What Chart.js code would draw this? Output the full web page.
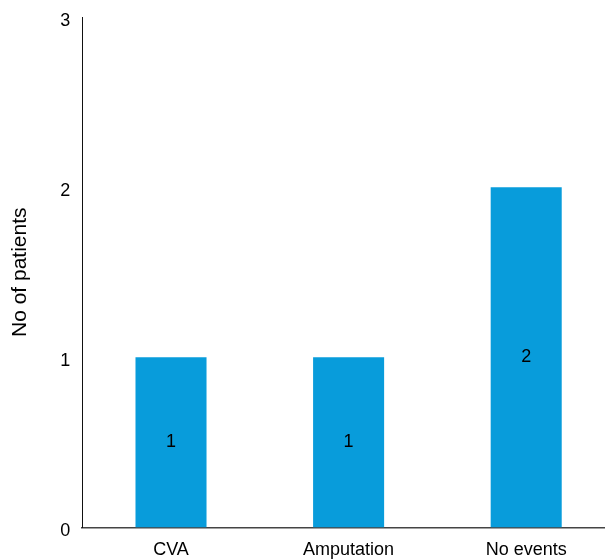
<!DOCTYPE html>
<html>
<head>
<meta charset="utf-8">
<script src="https://cdn.jsdelivr.net/npm/chart.js@4/dist/chart.umd.min.js"></script>
<style>
  html, body { margin: 0; padding: 0; background: #fff; overflow: hidden; }
  #wrap { width: 605px; height: 560px; overflow: hidden; }
  #c { display: block; margin-top: -3px; }
</style>
</head>
<body>
<div id="wrap"><canvas id="c" width="615" height="576"></canvas></div>
<script>
const categories = ['CVA', 'Amputation', 'No events'];
const patients = [1, 1, 2];
const yTicks = [0, 1, 2, 3];

const FONT = "'Liberation Sans', Arial, Helvetica, sans-serif";

// Writes each bar's value at the bar's vertical centre
const centreLabels = {
  id: 'centreLabels',
  afterDatasetsDraw(chart) {
    const ctx = chart.ctx;
    const meta = chart.getDatasetMeta(0);
    ctx.save();
    ctx.font = '18px ' + FONT;
    ctx.fillStyle = '#000';
    ctx.textAlign = 'center';
    ctx.textBaseline = 'middle';
    meta.data.forEach((bar, i) => {
      const p = bar.getProps(['x', 'y', 'base'], true);
      ctx.fillText(String(patients[i]), p.x, (p.y + p.base) / 2);
    });
    ctx.restore();
  }
};

new Chart(document.getElementById('c'), {
  type: 'bar',
  data: {
    labels: categories,
    datasets: [{
      data: patients,
      backgroundColor: '#089cdb',
      borderWidth: 0,
      categoryPercentage: 1,
      barPercentage: 0.4
    }]
  },
  options: {
    responsive: false,
    animation: false,
    layout: { padding: { top: 3, bottom: 0, left: 8, right: 0 } },
    plugins: { legend: { display: false }, tooltip: { enabled: false } },
    scales: {
      x: {
        grid: { display: false, drawTicks: false },
        border: { display: true, color: '#444', width: 1.5 },
        ticks: { color: '#000', font: { family: FONT, size: 18 }, padding: 12 }
      },
      y: {
        min: 0, max: 3,
        afterBuildTicks(scale) { scale.ticks = yTicks.map(v => ({ value: v })); },
        grid: { display: false, drawTicks: false },
        border: { display: true, color: '#111', width: 1 },
        ticks: {
          color: '#000',
          font: { family: FONT, size: 18, lineHeight: 0.45 },
          padding: 12,
          // an empty first line sets the number slightly below its tick
          callback: (v) => ['', String(v)]
        },
        title: {
          display: true,
          text: 'No of patients',
          color: '#000',
          font: { family: FONT, size: 21 },
          padding: { top: 0, bottom: 15 }
        }
      }
    }
  },
  plugins: [centreLabels]
});
</script>
</body>
</html>
